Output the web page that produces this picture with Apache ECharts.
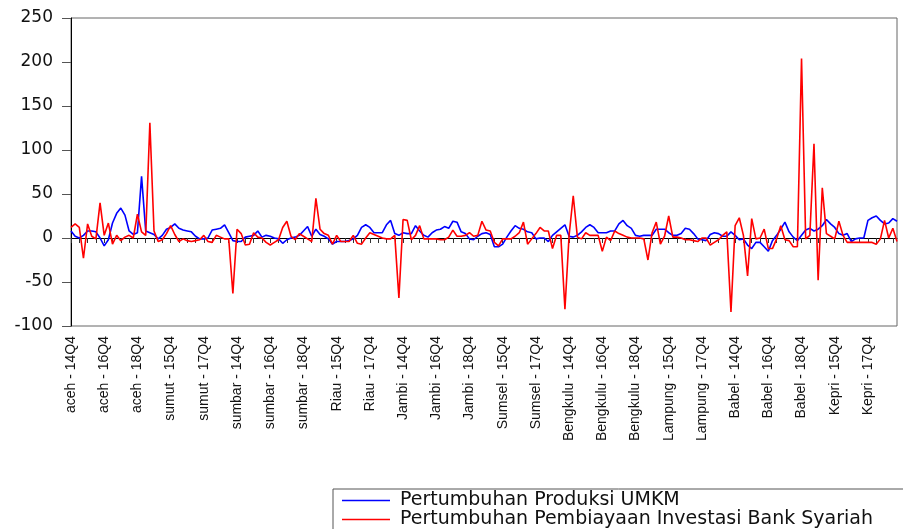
<!DOCTYPE html>
<html><head><meta charset="utf-8">
<script src="https://cdn.jsdelivr.net/npm/echarts@6/dist/echarts.min.js"></script>
<style>html,body{margin:0;padding:0;background:#fff;overflow:hidden}#c{width:903px;height:580px}</style>
</head><body><div id="c"></div>
<script>
const provinces = ["aceh","sumut","sumbar","Riau","Jambi","Sumsel","Bengkulu","Lampung","Babel","Kepri"];
const quarters = ["14Q4","15Q1","15Q2","15Q3","15Q4","16Q1","16Q2","16Q3","16Q4","17Q1","17Q2","17Q3","17Q4","18Q1","18Q2","18Q3","18Q4","19Q1","19Q2","19Q3"];
const yTicks = [-100,-50,0,50,100,150,200,250];
const umkm = [
 8,2,0,3,8,8,7,0,-9,-2, 17,28,34,26,8,4,6,70,8,6,
 4,-1,3,10,12,16,11,9,8,7, 2,-1,-1,0,9,10,11,15,6,-3,
 -4,-4,1,2,3,8,1,3,2,0, -1,-6,-2,0,1,3,8,13,2,10,
 4,2,-1,-7,-4,-4,-4,-3,-1,3, 12,15,12,6,6,6,15,20,5,3,
 6,5,5,14,8,3,1,6,9,10, 13,11,19,18,7,5,-1,-2,2,5,
 6,4,-10,-10,-7,1,8,14,11,10, 7,6,-1,0,0,-4,3,7,11,15,
 2,1,3,7,12,15,12,6,6,6, 8,8,16,20,14,11,3,2,3,3,
 3,10,10,10,6,3,3,5,11,10, 5,-1,-2,-3,4,6,5,2,2,7,
 3,-2,-1,-8,-12,-5,-5,-10,-15,-3, 3,10,18,7,1,-3,3,9,11,8,
 10,14,21,16,12,5,3,5,-4,-1, 0,0,20,23,25,20,16,17,22,19
];
const pembiayaan = [
 12,16,12,-23,16,2,-1,40,3,17, -7,3,-3,1,3,0,27,7,3,131,
 8,-4,-2,5,14,4,-4,-1,-3,-4, -3,-2,3,-4,-5,3,1,-1,-1,-63,
 10,5,-8,-7,6,1,0,-5,-8,-5, -2,12,19,2,-2,5,2,-1,-4,45,
 10,5,3,-7,3,-4,-4,-4,3,-6, -7,0,6,4,2,0,-1,-1,3,-68,
 21,20,-2,3,14,-1,-1,-1,-1,-2, -2,1,9,2,2,3,6,2,3,19,
 9,8,-5,-9,-1,-1,-1,2,6,18, -7,-1,5,12,8,8,-12,3,3,-81,
 3,48,1,-1,6,3,3,3,-15,1, -3,8,5,3,1,0,0,0,-1,-25,
 6,18,-7,2,25,1,1,0,-2,-2, -3,-4,0,0,-8,-5,-2,3,7,-84,
 14,23,3,-43,22,-1,0,10,-12,-12, -1,14,-2,-3,-10,-10,204,-1,3,107,
 -48,57,5,2,-1,19,3,-5,-5,-5, -5,-5,-5,-5,-7,-1,20,0,11,-4
];
const seriesNames = ["Pertumbuhan Produksi UMKM","Pertumbuhan Pembiayaan Investasi Bank Syariah"];

const categories = [];
provinces.forEach(p => quarters.forEach(q => categories.push(p + " - " + q)));

const chart = echarts.init(document.getElementById('c'), null, {renderer:'canvas'});
chart.setOption({
  animation:false,
  backgroundColor:'#fff',
  grid:{left:71,right:6,top:18,bottom:254,show:true,borderColor:'#666',borderWidth:1,containLabel:false},
  legend:{
    orient:'vertical', left:333, top:489, width:600, height:80,
    data:seriesNames,
    icon:'rect',
    itemWidth:48, itemHeight:1.5, itemGap:0,
    padding:[2,90,20,9],
    borderColor:'#555', borderWidth:1,
    textStyle:{fontFamily:'DejaVu Sans',fontSize:19,lineHeight:19,color:'#111',padding:[0,0,0,5]}
  },
  xAxis:{
    type:'category', data:categories, boundaryGap:false,
    axisLine:{lineStyle:{color:'#000',width:1}},
    axisTick:{show:true,interval:1,length:5,lineStyle:{color:'#333'}},
    axisLabel:{interval:7,rotate:90,margin:10,fontFamily:'Liberation Sans',fontSize:14,color:'#111'},
    splitLine:{show:false}
  },
  yAxis:{
    type:'value', min:-100, max:250, interval:50,
    axisLine:{show:true,lineStyle:{color:'#000',width:1}},
    axisTick:{show:true,length:9,lineStyle:{color:'#555'}},
    axisLabel:{margin:18,fontFamily:'DejaVu Sans',fontSize:17,color:'#111',
      formatter:v=>yTicks.includes(v)?String(v):''},
    splitLine:{show:false}
  },
  series:[
    {name:seriesNames[0],type:'line',data:umkm,symbol:'none',lineStyle:{color:'#0000ff',width:1.6},itemStyle:{color:'#0000ff'},z:2},
    {name:seriesNames[1],type:'line',data:pembiayaan,symbol:'none',lineStyle:{color:'#ff0000',width:1.6},itemStyle:{color:'#ff0000'},z:3}
  ]
});
</script></body></html>
